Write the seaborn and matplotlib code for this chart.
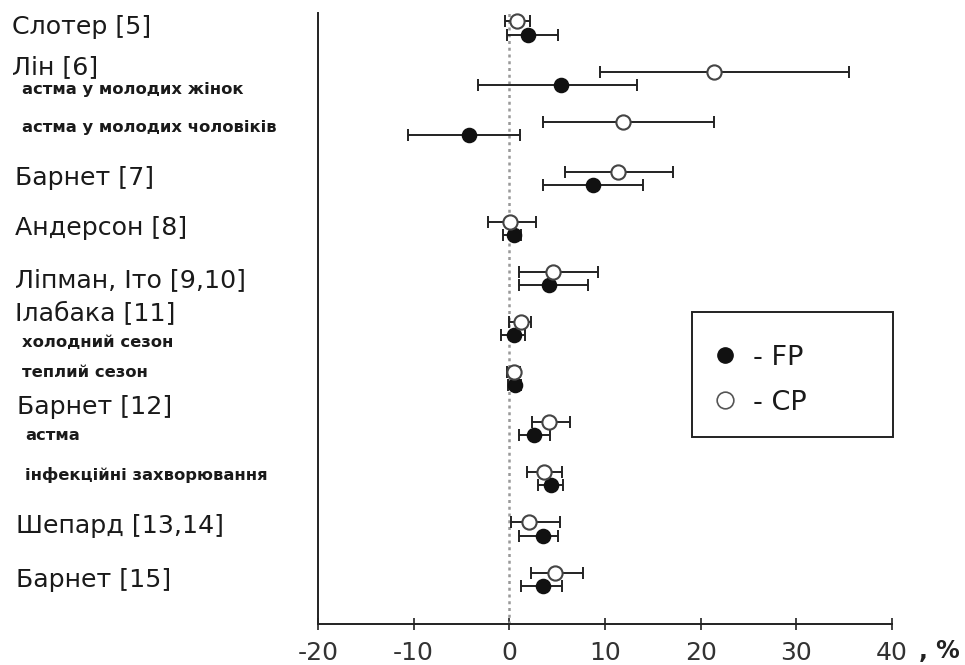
import matplotlib
matplotlib.use("Agg")
import matplotlib.pyplot as plt
import seaborn as sns
import pandas as pd
import numpy as np
from matplotlib.lines import Line2D
from matplotlib.patches import Rectangle

# ---- data (%) ----
rows = list(range(12))
fp_mean = [1.95, 5.4, -4.25, 8.7, 0.45, 4.1, 0.45, 0.6, 2.55, 4.35, 3.5, 3.5]
fp_lo   = [-0.2, -3.3, -10.6, 3.5, -0.7, 1.0, -0.85, -0.15, 1.0, 2.95, 1.05, 1.25]
fp_hi   = [5.1, 13.3, 1.1, 14.0, 1.25, 8.2, 1.6, 1.25, 4.2, 5.65, 5.1, 5.5]
cp_mean = [0.8, 21.4, 11.9, 11.35, 0.1, 4.6, 1.2, 0.45, 4.1, 3.6, 2.1, 4.8]
cp_lo   = [-0.5, 9.5, 3.5, 5.85, -2.2, 1.0, 0.0, -0.25, 2.35, 1.85, 0.2, 2.25]
cp_hi   = [2.2, 35.5, 21.4, 17.15, 2.8, 9.25, 2.3, 1.15, 6.35, 5.5, 5.25, 7.7]

main_labels = ["Слотер [5]", "Лін [6]", "Барнет [7]", "Андерсон [8]",
               "Ліпман, Іто [9,10]", "Ілабака [11]", "Барнет [12]",
               "Шепард [13,14]", "Барнет [15]"]
sub_labels = ["астма у молодих жінок", "астма у молодих чоловіків",
              "холодний сезон", "теплий сезон", "астма",
              "інфекційні захворювання"]
x_ticks = [-20, -10, 0, 10, 20, 30, 40]
legend_labels = ["- FP", "- CP"]

# ---- layout (pixel positions of the side labels) ----
main_pos = [(12, 34), (12, 74), (15, 185), (15, 235), (15, 287), (15, 321),
            (17, 414), (16, 533), (16, 587)]
sub_pos = [(22, 94), (22, 132), (22, 347), (22, 377), (25, 440), (25, 480)]

sns.set_theme(style="white")
plt.rcParams['font.family'] = ['DejaVu Sans']

W, H = 965, 665
fig = plt.figure(figsize=(W / 100, H / 100), dpi=100)
ax = fig.add_axes([318 / W, (H - 624) / H, (892 - 318) / W, (624 - 13) / H])

off = 0.13
df_fp = pd.DataFrame({"x": fp_mean, "y": np.array(rows) + off})
df_cp = pd.DataFrame({"x": cp_mean, "y": np.array(rows) - off})

ax.axvline(0, color="#999999", lw=1.8, ls=(0, (1.2, 1.5)), zorder=1)

for df, lo, hi in [(df_fp, fp_lo, fp_hi), (df_cp, cp_lo, cp_hi)]:
    xerr = np.vstack([df["x"] - np.array(lo), np.array(hi) - df["x"]])
    ax.errorbar(df["x"], df["y"], xerr=xerr, fmt="none", ecolor="#222222",
                elinewidth=1.4, capsize=4.5, capthick=1.4, zorder=2)

sns.scatterplot(data=df_fp, x="x", y="y", ax=ax, s=100, color="#111111",
                edgecolor="#111111", linewidth=1.2, zorder=3, legend=False)
sns.scatterplot(data=df_cp, x="x", y="y", ax=ax, s=105, color="white",
                edgecolor="#444444", linewidth=1.5, zorder=3, legend=False)

ax.set_xlim(-20, 40)
ax.set_ylim((624 - 28) / 50.1, -(28 - 13) / 50.1)
ax.set_xticks(x_ticks)
ax.set_xticklabels([str(t) for t in x_ticks], fontsize=18, color="#333333")
ax.set_yticks([])
ax.set_xlabel("")
ax.set_ylabel("")
for s in ["top", "right"]:
    ax.spines[s].set_visible(False)
for s in ["left", "bottom"]:
    ax.spines[s].set_color("#222222")
    ax.spines[s].set_linewidth(1.4)
ax.tick_params(axis="x", direction="inout", length=9, width=1.2,
               color="#222222", pad=8, bottom=True)

for lab, (px, py) in zip(main_labels, main_pos):
    fig.text(px / W, 1 - py / H, lab, fontsize=18.2, color="#1a1a1a",
             ha="left", va="baseline")
for lab, (px, py) in zip(sub_labels, sub_pos):
    fig.text(px / W, 1 - py / H, lab, fontsize=11.8, fontweight="bold",
             color="#1a1a1a", ha="left", va="baseline")

fig.text(919 / W, 1 - 658 / H, ", %", fontsize=17, fontweight="bold",
         color="#222222", ha="left", va="baseline")

# legend box drawn by hand to match the reference frame
fig.add_artist(Rectangle((692 / W, 1 - 437 / H), (893 - 692) / W,
                         (437 - 312) / H, transform=fig.transFigure,
                         fill=False, edgecolor="#222222", linewidth=1.4))
fig.add_artist(Line2D([725 / W], [1 - 355 / H], transform=fig.transFigure,
                      ls="none", marker="o", markersize=11,
                      markerfacecolor="#111111", markeredgecolor="#111111"))
fig.add_artist(Line2D([725 / W], [1 - 400 / H], transform=fig.transFigure,
                      ls="none", marker="o", markersize=12,
                      markerfacecolor="white", markeredgecolor="#555555",
                      markeredgewidth=1.2))
for lab, py in zip(legend_labels, [355, 400]):
    fig.text(753 / W, 1 - py / H, lab, fontsize=19.5, color="#1a1a1a",
             ha="left", va="center_baseline")

fig.savefig("out.png", dpi=100)
